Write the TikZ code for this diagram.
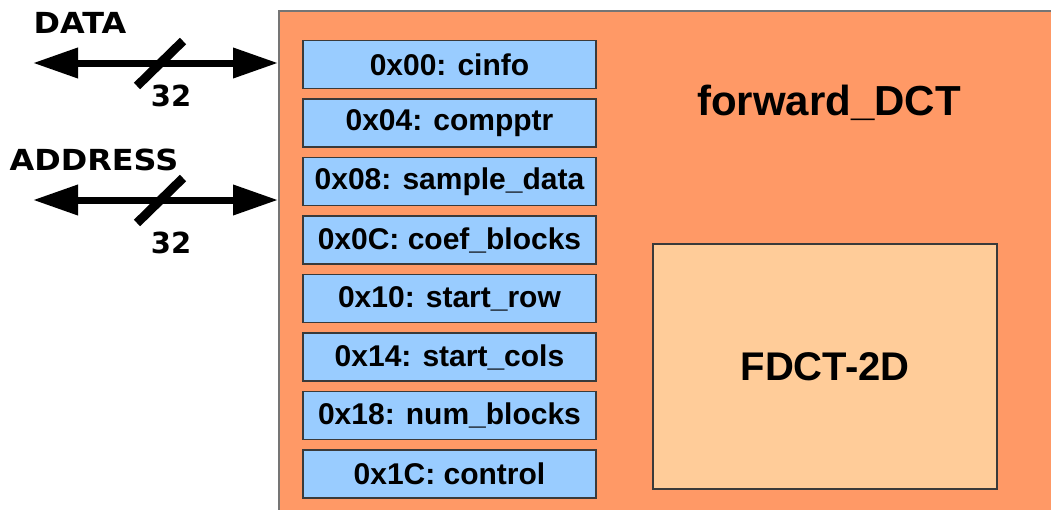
\documentclass[tikz,border=0pt]{standalone}
\usepackage{fontspec}
\setmainfont{Liberation Sans}
\newfontfamily\dejavu{DejaVu Sans}
\usetikzlibrary{arrows.meta,calc}
\definecolor{outerfill}{HTML}{FF9966}
\definecolor{regfill}{HTML}{99CCFF}
\definecolor{corefill}{HTML}{FFCC99}
\definecolor{edge}{HTML}{3A3A3A}
\tikzset{
  regbox/.style={draw=edge, line width=1.6pt, fill=regfill, minimum width=293pt, minimum height=48pt,
    inner sep=0pt, font=\fontsize{30}{34}\selectfont\bfseries},
  corebox/.style={draw=edge, line width=1.6pt, fill=corefill, minimum width=344pt, minimum height=245pt,
    inner sep=0pt, font=\fontsize{40}{46}\selectfont\bfseries},
  outerbox/.style={draw=edge!70, line width=1.6pt, fill=outerfill, minimum width=800pt, minimum height=520pt,
    inner sep=0pt, anchor=north west},
  bus/.style={line width=7pt, {Triangle[length=45pt,width=29pt]}-{Triangle[length=45pt,width=29pt]}},
  slashline/.style={line width=9pt},
  buslabel/.style={font=\fontsize{29}{33}\dejavu\bfseries, inner sep=0pt},
  widthlabel/.style={font=\fontsize{29}{33}\dejavu\bfseries, inner sep=0pt}
}
\begin{document}
\begin{tikzpicture}[x=1pt,y=-1pt]
\useasboundingbox (0,0) rectangle (1051,509);
\clip (0,0) rectangle (1051,509);
\node[outerbox] (fwd) at (278,10) {};
\node[font=\fontsize{42}{48}\selectfont\bfseries, inner sep=0pt] (title) at (829,103) {forward\_DCT};
\node[corebox] (fdct) at (825,366.5) {FDCT-2D};
\foreach \i/\t in {0/{0x00: cinfo},1/{0x04: compptr},2/{0x08: sample\_data},3/{0x0C: coef\_blocks},
                   4/{0x10: start\_row},5/{0x14: start\_cols},6/{0x18: num\_blocks},7/{0x1C: control}}{
  \node[regbox] (r\i) at (449.5,{64.5+58.5*\i}) {\t};
}
% DATA bus
\node[buslabel] (datalbl) at (80,22.5) {\scalebox{1.1}[1]{DATA}};
\coordinate (dataL) at (33,63);
\draw[bus] (dataL) -- (dataL -| fwd.west);
\coordinate (dsA) at (137,86);
\coordinate (dsB) at (183,41);
\draw[slashline] (dsA) -- (dsB);
\node[widthlabel] (dw) at (171,96) {32};
% ADDRESS bus
\node[buslabel] (addrlbl) at (94,160) {\scalebox{1.1}[1]{ADDRESS}};
\coordinate (addrL) at (33,200);
\draw[bus] (addrL) -- (addrL -| fwd.west);
\coordinate (asA) at (137,223);
\coordinate (asB) at (183,178);
\draw[slashline] (asA) -- (asB);
\node[widthlabel] (aw) at (171,243) {32};
\end{tikzpicture}
\end{document}
